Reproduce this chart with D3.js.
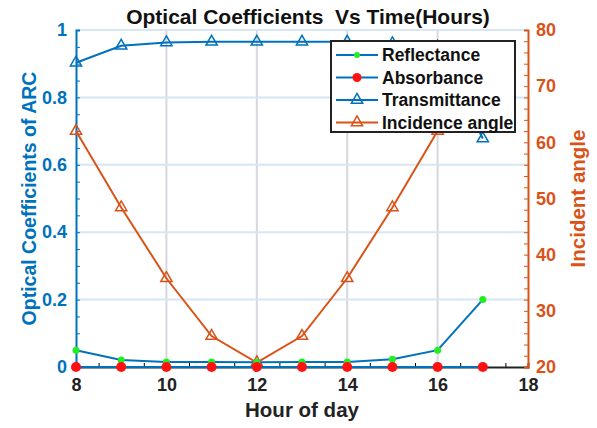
<!DOCTYPE html>
<html>
<head>
<meta charset="utf-8">
<script src="https://cdn.jsdelivr.net/npm/d3@7"></script>
<style>
  body { margin: 0; background: #fff; }
  svg { font-family: "Liberation Sans", Arial, sans-serif; font-weight: bold; }
</style>
</head>
<body>
<div id="chart"></div>
<script>
// data
const hours = [8, 9, 10, 11, 12, 13, 14, 15, 16, 17];
const reflectance = [0.05, 0.021, 0.015, 0.015, 0.014, 0.015, 0.015, 0.023, 0.05, 0.2];
const absorbance = [0, 0, 0, 0, 0, 0, 0, 0, 0, 0];
const transmittance = [0.903, 0.953, 0.963, 0.965, 0.965, 0.965, 0.965, 0.96, 0.95, 0.678];
const angleHours = [8, 9, 10, 11, 12, 13, 14, 15, 16];
const incidence = [62, 48.4, 35.8, 25.5, 20.8, 25.5, 35.8, 48.4, 62];
const xTicks = [8, 10, 12, 14, 16, 18];
const yTicks = [0, 0.2, 0.4, 0.6, 0.8, 1];
const y2Ticks = [20, 30, 40, 50, 60, 70, 80];
const legendNames = ["Reflectance", "Absorbance", "Transmittance", "Incidence angle"];

const width = 597, height = 428;
const margin = {top: 30, right: 69, bottom: 61, left: 76};
const blue = "#0072BD", orange = "#D95319";

const x = d3.scaleLinear().domain([8, 18]).range([margin.left, width - margin.right]);
const y = d3.scaleLinear().domain([0, 1]).range([height - margin.bottom, margin.top]);
const y2 = d3.scaleLinear().domain([20, 80]).range([height - margin.bottom, margin.top]);

const svg = d3.select("#chart").append("svg")
    .attr("width", width)
    .attr("height", height);

// grid
svg.append("g").selectAll("line")
  .data(xTicks.slice(1, -1))
  .enter().append("line")
    .attr("x1", d => x(d)).attr("x2", d => x(d))
    .attr("y1", y(0)).attr("y2", y(1))
    .attr("stroke", "#d5d8de").attr("stroke-width", 2);

svg.append("g").selectAll("line")
  .data(yTicks.slice(1))
  .enter().append("line")
    .attr("x1", x(8)).attr("x2", x(18))
    .attr("y1", d => y(d)).attr("y2", d => y(d))
    .attr("stroke", "#d6e6f4").attr("stroke-width", 2);

// axes (ticks point inwards)
let xAxis = g => g
    .attr("transform", `translate(0,${y(0)})`)
    .call(d3.axisBottom(x).tickValues(d3.range(8, 18.01, 0.5)).tickSize(-4).tickFormat(""))
    .call(g => g.select(".domain").attr("stroke", "#222").attr("stroke-width", 2));

let xLabels = g => g
    .attr("transform", `translate(0,${y(0)})`)
    .call(d3.axisBottom(x).tickValues(xTicks).tickSize(0).tickPadding(11).tickFormat(d3.format("d")))
    .call(g => g.select(".domain").remove())
    .call(g => g.selectAll("text").attr("fill", "#222").style("font-size", "18px").style("font-weight", "bold"));

let yAxis = g => g
    .attr("transform", `translate(${x(8)},0)`)
    .call(d3.axisLeft(y).tickValues(d3.range(0, 1.001, 0.05)).tickSize(-4).tickFormat(""))
    .call(g => g.selectAll("line").attr("stroke", blue))
    .call(g => g.select(".domain").attr("stroke", blue).attr("stroke-width", 2));

let yLabels = g => g
    .attr("transform", `translate(${x(8)},0)`)
    .call(d3.axisLeft(y).tickValues(yTicks).tickSize(0).tickPadding(9).tickFormat(d => d === 0 || d === 1 ? d : d3.format(".1f")(d)))
    .call(g => g.select(".domain").remove())
    .call(g => g.selectAll("text").attr("fill", blue).style("font-size", "18px").style("font-weight", "bold"));

let y2Axis = g => g
    .attr("transform", `translate(${x(18)},0)`)
    .call(d3.axisRight(y2).tickValues(d3.range(20, 80.01, 2)).tickSize(-4).tickFormat(""))
    .call(g => g.selectAll("line").attr("stroke", orange))
    .call(g => g.select(".domain").attr("stroke", orange).attr("stroke-width", 2));

let y2Labels = g => g
    .attr("transform", `translate(${x(18)},0)`)
    .call(d3.axisRight(y2).tickValues(y2Ticks).tickSize(0).tickPadding(8))
    .call(g => g.select(".domain").remove())
    .call(g => g.selectAll("text").attr("fill", orange).style("font-size", "18px").style("font-weight", "bold"));

svg.append("g").call(xAxis);
svg.append("g").call(yAxis);
svg.append("g").call(y2Axis);
svg.append("g").call(xLabels);
svg.append("g").call(yLabels);
svg.append("g").call(y2Labels);

// series
const line = d3.line().x(d => x(d[0])).y(d => y(d[1]));
const line2 = d3.line().x(d => x(d[0])).y(d => y2(d[1]));
const tri = d3.symbol().type(d3.symbolTriangle).size(55);

const plot = svg.append("g");

// incidence angle (right axis)
const incData = d3.zip(angleHours, incidence);
plot.append("path").datum(incData)
    .attr("d", line2).attr("fill", "none").attr("stroke", orange).attr("stroke-width", 2);
plot.append("g").selectAll("path")
  .data(incData)
  .enter().append("path")
    .attr("d", tri)
    .attr("transform", d => `translate(${x(d[0])},${y2(d[1])})`)
    .attr("fill", "none").attr("stroke", orange).attr("stroke-width", 1.5);

// transmittance
const trData = d3.zip(hours, transmittance);
plot.append("path").datum(trData)
    .attr("d", line).attr("fill", "none").attr("stroke", blue).attr("stroke-width", 2);
plot.append("g").selectAll("path")
  .data(trData)
  .enter().append("path")
    .attr("d", tri)
    .attr("transform", d => `translate(${x(d[0])},${y(d[1])})`)
    .attr("fill", "none").attr("stroke", blue).attr("stroke-width", 1.5);

// reflectance
const refData = d3.zip(hours, reflectance);
plot.append("path").datum(refData)
    .attr("d", line).attr("fill", "none").attr("stroke", blue).attr("stroke-width", 2);
plot.append("g").selectAll("circle")
  .data(refData)
  .enter().append("circle")
    .attr("cx", d => x(d[0])).attr("cy", d => y(d[1]))
    .attr("r", 3.5).attr("fill", "#22ee22");

// absorbance
const absData = d3.zip(hours, absorbance);
plot.append("path").datum(absData)
    .attr("d", line).attr("fill", "none").attr("stroke", blue).attr("stroke-width", 2);
plot.append("g").selectAll("circle")
  .data(absData)
  .enter().append("circle")
    .attr("cx", d => x(d[0])).attr("cy", d => y(d[1]))
    .attr("r", 5).attr("fill", "#ff1111");

// title and labels
svg.append("text")
    .attr("x", 308).attr("y", 24)
    .attr("text-anchor", "middle")
    .attr("xml:space", "preserve")
    .style("white-space", "pre")
    .style("font-size", "21px")
    .attr("fill", "#111")
    .text("Optical Coefficients  Vs Time(Hours)");

svg.append("text")
    .attr("x", (x(8) + x(18)) / 2).attr("y", 417)
    .attr("text-anchor", "middle")
    .style("font-size", "20.5px")
    .attr("fill", "#222")
    .text("Hour of day");

svg.append("text")
    .attr("transform", `translate(36,${(y(0) + y(1)) / 2}) rotate(-90)`)
    .attr("text-anchor", "middle")
    .style("font-size", "19.5px")
    .attr("fill", blue)
    .text("Optical Coefficients of ARC");

svg.append("text")
    .attr("transform", `translate(585,${(y(0) + y(1)) / 2}) rotate(-90)`)
    .attr("text-anchor", "middle")
    .style("font-size", "20.5px")
    .attr("fill", orange)
    .text("Incident angle");

// legend
const legend = svg.append("g").attr("transform", "translate(331,41)");
legend.append("rect")
    .attr("width", 184).attr("height", 91)
    .attr("fill", "#fff").attr("stroke", "#222").attr("stroke-width", 2);

const items = legend.selectAll("g")
  .data(legendNames)
  .enter().append("g")
    .attr("transform", (d, i) => `translate(0,${14 + i * 22.5})`);

items.append("line")
    .attr("x1", 5).attr("x2", 47)
    .attr("stroke", (d, i) => i === 3 ? orange : blue).attr("stroke-width", 2);

items.filter((d, i) => i === 0).append("circle").attr("cx", 26).attr("r", 3).attr("fill", "#22ee22");
items.filter((d, i) => i === 1).append("circle").attr("cx", 26).attr("r", 4.5).attr("fill", "#ff1111");
items.filter((d, i) => i >= 2).append("path")
    .attr("d", tri).attr("transform", "translate(26,0)")
    .attr("fill", "none").attr("stroke", (d, i) => i === 1 ? orange : blue).attr("stroke-width", 1.5);

items.append("text")
    .attr("x", 51).attr("y", 6)
    .style("font-size", "17.5px")
    .attr("fill", "#111")
    .text(d => d);
</script>
</body>
</html>
